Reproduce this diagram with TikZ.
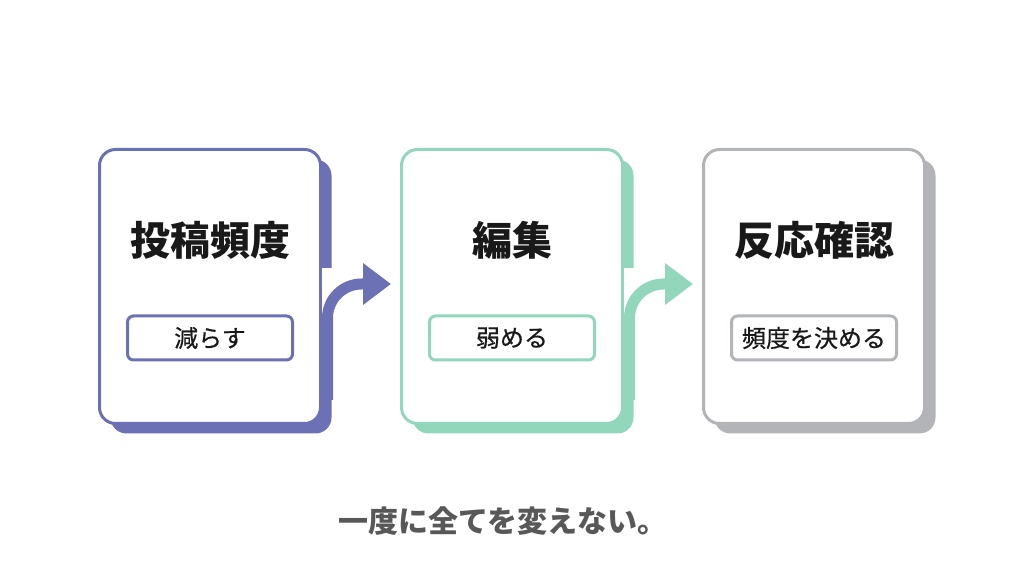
\documentclass[tikz,border=0pt]{standalone}
\usepackage{fontspec}
\newfontfamily\jpfont{Noto Sans CJK JP}
\newfontfamily\jptagfont[FakeBold=0.5]{Noto Sans CJK JP}
\usetikzlibrary{arrows.meta,positioning,shadows,calc}
\definecolor{CIndigo}{RGB}{108,113,182}
\definecolor{CMint}{RGB}{146,214,187}
\definecolor{CGray}{RGB}{178,180,184}
\definecolor{CText}{RGB}{25,25,25}
\definecolor{CNote}{RGB}{88,88,88}

\tikzset{
  card/.style={draw=#1, fill=white, line width=3pt, rounded corners=16pt,
    minimum width=221pt, minimum height=274pt,
    general shadow={fill=#1, shadow xshift=11pt, shadow yshift=-10pt}},
  cardtitle/.style={font=\jpfont\bfseries\fontsize{40}{48}\selectfont, text=CText},
  tag/.style={draw=#1, fill=white, line width=3pt, rounded corners=6pt,
    minimum width=165pt, minimum height=44pt,
    font=\jptagfont\fontsize{24}{28}\selectfont, text=CText},
  flow/.style={draw=#1, line width=11pt, rounded corners=34pt,
    -{Triangle[length=28pt,width=40pt]}}
}

\begin{document}
\begin{tikzpicture}[x=1pt,y=1pt]
  \useasboundingbox (0,0) rectangle (1024,572);

  % cards
  \node[card=CIndigo] (c1) at (210,285.5) {};
  \node[card=CMint, right=78pt of c1] (c2) {};
  \node[card=CGray, right=78pt of c2] (c3) {};

  \node[cardtitle] (t1) at ([yshift=46pt]c1.center) {投稿頻度};
  \node[cardtitle] (t2) at ([yshift=46pt]c2.center) {編集};
  \node[cardtitle] (t3) at ([yshift=46pt]c3.center) {反応確認};

  \node[tag=CIndigo] (g1) at ([yshift=-51.5pt]c1.center) {減らす};
  \node[tag=CMint] (g2) at ([yshift=-51.5pt]c2.center) {弱める};
  \node[tag=CGray] (g3) at ([yshift=-51.5pt]c3.center) {頻度を決める};

  % gaps in the shadow where the arrows leave
  \fill[white] ($(c1.north east)+(0.4,-120)$) rectangle ($(c1.north east)+(14,-172)$);
  \fill[white] ($(c2.north east)+(0.4,-120)$) rectangle ($(c2.north east)+(14,-172)$);

  % arrows
  \coordinate (s1) at ($(c1.south east)+(5.5,25)$);
  \coordinate (e1) at ($(c2.west)+(-9,2.5)$);
  \coordinate (s2) at ($(c2.south east)+(5.5,25)$);
  \coordinate (e2) at ($(c3.west)+(-9,2.5)$);
  \draw[flow=CIndigo] (s1) |- (e1);
  \draw[flow=CMint] (s2) |- (e2);

  \node[font=\jpfont\bfseries\fontsize{30}{36}\selectfont, text=CNote] (note) at (503,51) {一度に全てを変えない。};
\end{tikzpicture}
\end{document}
